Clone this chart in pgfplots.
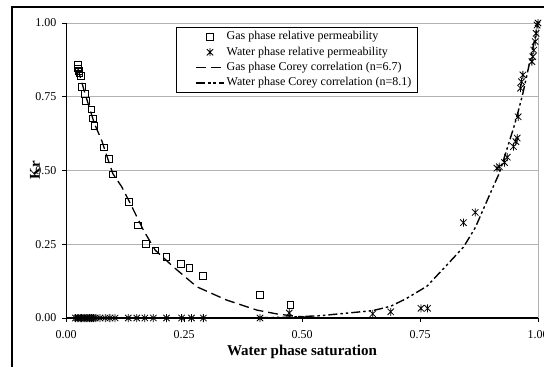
\documentclass[border=0pt]{standalone}
\usepackage{pgfplots}
\pgfplotsset{compat=1.18}
\usepackage{fontspec}
\setmainfont{Liberation Serif}
\pgfdeclareplotmark{xstar}{%
  \pgfpathmoveto{\pgfqpoint{0pt}{\pgfplotmarksize}}%
  \pgfpathlineto{\pgfqpoint{0pt}{-\pgfplotmarksize}}%
  \pgfpathmoveto{\pgfqpoint{-0.8\pgfplotmarksize}{0.8\pgfplotmarksize}}%
  \pgfpathlineto{\pgfqpoint{0.8\pgfplotmarksize}{-0.8\pgfplotmarksize}}%
  \pgfpathmoveto{\pgfqpoint{-0.8\pgfplotmarksize}{-0.8\pgfplotmarksize}}%
  \pgfpathlineto{\pgfqpoint{0.8\pgfplotmarksize}{0.8\pgfplotmarksize}}%
  \pgfusepathqstroke}

\begin{document}
\begin{tikzpicture}
\useasboundingbox (0pt,0pt) rectangle (544pt,-367pt);
\draw[line width=1.3pt] (12pt,-370pt) -- (12pt,-7pt) -- (548pt,-7pt);
\begin{axis}[
  at={(66pt,-318pt)}, anchor=south west,
  scale only axis, width=472pt, height=295pt,
  xmin=0, xmax=1, ymin=0, ymax=1,
  xtick={0,0.25,0.5,0.75,1}, ytick={0,0.25,0.5,0.75,1},
  axis x line*=bottom, axis y line*=left,
  axis line style={-},
  x axis line style={line width=1.8pt},
  y axis line style={line width=0.8pt},
  tick align=outside, major tick length=4pt,
  tick style={black, line width=0.6pt},
  ymajorgrids, grid style={gray!60, line width=0.7pt},
  /pgf/number format/assume math mode=true,
  /pgf/number format/.cd, fixed, fixed zerofill, precision=2, /pgfplots/.cd,
  ticklabel style={font=\fontsize{12}{14}\selectfont},
  xticklabel style={yshift=-5pt},
  yticklabel style={xshift=-2pt},
  xlabel={\textbf{Water phase saturation}},
  xlabel style={at={(axis description cs:0.5,-0.115)}, anchor=center, font=\fontsize{15}{17}\selectfont},
  ylabel={\textbf{Kr}},
  ylabel style={at={(axis description cs:-0.066,0.5)}, anchor=center, font=\fontsize{15}{17}\selectfont},
  clip=false,
  legend cell align=left,
  legend image code/.code={\path (-15pt,0pt); \draw[mark repeat=2,mark phase=2,#1] plot coordinates {(0pt,0pt) (14pt,0pt) (28pt,0pt)};},
  legend style={at={(rel axis cs:0.233,0.986)}, anchor=north west, draw=black, line width=0.6pt, fill=white,
    font=\fontsize{12}{14}\selectfont, inner xsep=4pt, inner ysep=3.5pt, row sep=3.3pt, column sep=0pt,
    nodes={inner xsep=2pt, inner ysep=0pt, text height=9pt, text depth=3pt}},
]
% gas phase relative permeability (squares)
\addplot[only marks, mark=square, mark size=3.3pt, mark options={line width=0.7pt, fill=none}, black] coordinates {
(0.025,0.858)(0.025,0.846)(0.027,0.838)(0.028,0.830)(0.031,0.820)(0.033,0.784)(0.040,0.759)(0.042,0.736)
(0.054,0.707)(0.057,0.677)(0.060,0.651)(0.080,0.579)(0.091,0.539)(0.099,0.487)(0.133,0.394)(0.152,0.314)
(0.169,0.251)(0.189,0.229)(0.213,0.207)(0.243,0.183)(0.261,0.171)(0.290,0.142)(0.411,0.078)(0.475,0.044)
};
\addlegendentry{Gas phase relative permeability}
% water phase relative permeability (asterisks)
\addplot[only marks, mark=xstar, mark size=4pt, mark options={line width=0.8pt}, black] coordinates {
(0.020,0)(0.024,0)(0.027,0)(0.030,0)(0.033,0)(0.036,0)(0.040,0)(0.043,0)(0.046,0)(0.050,0)(0.054,0)(0.058,0)(0.062,0)
(0.072,0)(0.083,0)(0.093,0)(0.104,0)(0.132,0)(0.150,0)(0.167,0)(0.185,0)(0.213,0)(0.245,0)(0.266,0)(0.291,0)(0.411,0)
(0.473,0.017)(0.650,0.014)(0.688,0.021)(0.752,0.033)(0.766,0.033)(0.842,0.323)(0.867,0.358)
(0.913,0.508)(0.918,0.513)(0.929,0.527)(0.935,0.545)(0.948,0.581)(0.953,0.598)(0.958,0.682)(0.956,0.610)
(0.963,0.779)(0.965,0.801)(0.968,0.824)(0.987,0.869)(0.989,0.886)(0.991,0.908)(0.994,0.937)(0.996,0.965)(0.998,0.993)(1.000,1.000)
};
\addlegendentry{Water phase relative permeability}
% gas Corey correlation
\addplot[black, line width=1.3pt, dash pattern=on 10pt off 5pt] coordinates {
(0.025,0.846)(0.040,0.762)(0.060,0.660)(0.076,0.600)(0.099,0.490)(0.118,0.445)(0.136,0.389)(0.164,0.298)
(0.189,0.230)(0.227,0.174)(0.277,0.106)(0.340,0.061)(0.404,0.027)(0.446,0.014)(0.475,0.008)(0.500,0.004)
(0.550,0.000)(1.000,0.000)
};
\addlegendentry{Gas phase Corey correlation (n=6.7)}
% water Corey correlation
\addplot[black, line width=1.4pt, dash pattern=on 9pt off 3pt on 2.5pt off 3pt on 2.5pt off 3pt] coordinates {
(0.020,0.000)(0.290,0.000)(0.411,0.001)(0.475,0.003)(0.540,0.008)(0.650,0.025)(0.688,0.040)(0.720,0.065)
(0.765,0.108)(0.842,0.240)(0.867,0.306)(0.902,0.434)(0.918,0.491)(0.929,0.546)(0.948,0.643)(0.953,0.671)
(0.958,0.700)(0.965,0.743)(0.969,0.769)(0.987,0.900)(0.994,0.952)(1.000,1.000)
};
\addlegendentry{Water phase Corey correlation (n=8.1)}
\draw[gray!60, line width=0.8pt] (rel axis cs:1,0) -- (rel axis cs:1,1);
\end{axis}
\end{tikzpicture}
\end{document}
